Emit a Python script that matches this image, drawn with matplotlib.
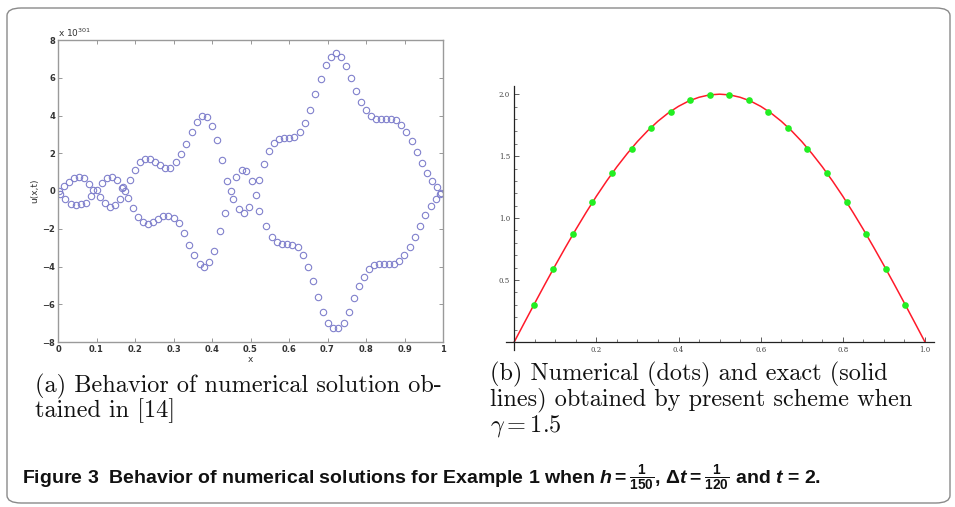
import matplotlib
matplotlib.use("Agg")
import matplotlib.pyplot as plt
from matplotlib.patches import FancyBboxPatch
from matplotlib.ticker import MultipleLocator

# (a) unstable solution, values in units of 10^301
x_up = [0.003, 0.016, 0.029, 0.042, 0.055, 0.068, 0.081, 0.091, 0.113, 0.127,
        0.141, 0.153, 0.165, 0.187, 0.201, 0.214, 0.227, 0.240, 0.253, 0.266,
        0.279, 0.292, 0.306, 0.320, 0.333, 0.347, 0.360, 0.373, 0.387, 0.401,
        0.414, 0.426, 0.440, 0.462, 0.477, 0.488, 0.503, 0.523, 0.535, 0.548,
        0.561, 0.574, 0.587, 0.600, 0.614, 0.628, 0.642, 0.655, 0.668, 0.682,
        0.695, 0.708, 0.721, 0.735, 0.749, 0.762, 0.775, 0.788, 0.801, 0.814,
        0.827, 0.840, 0.853, 0.866, 0.879, 0.892, 0.905, 0.919, 0.932, 0.946,
        0.958, 0.972, 0.984, 0.996]
u_up = [0.0, 0.27, 0.5, 0.71, 0.75, 0.68, 0.39, 0.05, 0.41, 0.71,
        0.76, 0.57, 0.18, 0.57, 1.12, 1.51, 1.72, 1.72, 1.55, 1.37,
        1.24, 1.24, 1.51, 1.96, 2.49, 3.11, 3.64, 3.96, 3.91, 3.47,
        2.72, 1.64, 0.52, 0.75, 1.11, 1.07, 0.53, 0.59, 1.42, 2.10,
        2.52, 2.76, 2.81, 2.81, 2.84, 3.15, 3.61, 4.30, 5.12, 5.96,
        6.67, 7.11, 7.29, 7.08, 6.61, 6.01, 5.30, 4.71, 4.27, 3.95,
        3.79, 3.79, 3.79, 3.79, 3.77, 3.52, 3.15, 2.63, 2.08, 1.49,
        0.96, 0.53, 0.23, -0.09]
x_lo = [0.006, 0.019, 0.033, 0.046, 0.059, 0.073, 0.087, 0.100, 0.108, 0.121,
        0.134, 0.147, 0.160, 0.169, 0.175, 0.182, 0.195, 0.208, 0.221, 0.234,
        0.247, 0.261, 0.274, 0.287, 0.300, 0.313, 0.327, 0.341, 0.354, 0.368,
        0.379, 0.392, 0.406, 0.421, 0.434, 0.449, 0.455, 0.471, 0.484, 0.497,
        0.514, 0.522, 0.541, 0.556, 0.570, 0.583, 0.596, 0.609, 0.623, 0.636,
        0.649, 0.662, 0.675, 0.688, 0.701, 0.714, 0.728, 0.742, 0.756, 0.769,
        0.782, 0.795, 0.808, 0.821, 0.834, 0.847, 0.860, 0.873, 0.886, 0.899,
        0.913, 0.927, 0.941, 0.954, 0.968, 0.983, 0.993]
u_lo = [-0.18, -0.44, -0.68, -0.75, -0.71, -0.62, -0.27, 0.05, -0.30, -0.62,
        -0.84, -0.75, -0.44, 0.23, 0.02, -0.36, -0.92, -1.37, -1.65, -1.74,
        -1.65, -1.46, -1.33, -1.30, -1.42, -1.72, -2.22, -2.84, -3.41, -3.86,
        -4.05, -3.77, -3.16, -2.13, -1.16, 0.02, -0.44, -0.96, -1.16, -0.84,
        -0.20, -1.07, -1.87, -2.42, -2.70, -2.81, -2.81, -2.84, -2.99, -3.38,
        -4.00, -4.75, -5.60, -6.40, -6.99, -7.25, -7.25, -6.97, -6.40, -5.69,
        -5.03, -4.53, -4.14, -3.91, -3.86, -3.86, -3.86, -3.86, -3.70, -3.38,
        -2.95, -2.44, -1.87, -1.28, -0.80, -0.41, -0.14]

# (b) numerical dots and exact curve
x_dots = [0.048, 0.095, 0.143, 0.190, 0.238, 0.286, 0.333, 0.381, 0.429, 0.476,
          0.524, 0.571, 0.619, 0.667, 0.714, 0.762, 0.810, 0.857, 0.905, 0.952]
u_dots = [0.30, 0.59, 0.87, 1.13, 1.36, 1.56, 1.73, 1.86, 1.95, 1.99,
          1.99, 1.95, 1.86, 1.73, 1.56, 1.36, 1.13, 0.87, 0.59, 0.30]
x_exact = [0.0, 0.025, 0.05, 0.075, 0.1, 0.125, 0.15, 0.175, 0.2, 0.225,
           0.25, 0.275, 0.3, 0.325, 0.35, 0.375, 0.4, 0.425, 0.45, 0.475,
           0.5, 0.525, 0.55, 0.575, 0.6, 0.625, 0.65, 0.675, 0.7, 0.725,
           0.75, 0.775, 0.8, 0.825, 0.85, 0.875, 0.9, 0.925, 0.95, 0.975, 1.0]
u_exact = [0.0, 0.157, 0.313, 0.467, 0.618, 0.765, 0.908, 1.045, 1.176, 1.299,
           1.414, 1.520, 1.618, 1.705, 1.782, 1.848, 1.902, 1.945, 1.975, 1.994,
           2.0, 1.994, 1.975, 1.945, 1.902, 1.848, 1.782, 1.705, 1.618, 1.520,
           1.414, 1.299, 1.176, 1.045, 0.908, 0.765, 0.618, 0.467, 0.313, 0.157, 0.0]

W, H = 955, 507
fig = plt.figure(figsize=(W / 100, H / 100), dpi=100)


def box(l, t, r, b):
    return [l / W, 1 - b / H, (r - l) / W, (b - t) / H]


# outer rounded frame
fig.patches.append(FancyBboxPatch((7 / W, 4 / H), 943 / W, 495 / H,
                                  boxstyle="round,pad=0,rounding_size=0.015",
                                  transform=fig.transFigure, fill=False,
                                  edgecolor="#8a8a8a", linewidth=1.0))

# ---- (a) MATLAB-style scatter ----
ax1 = fig.add_axes(box(58, 40, 443, 342))
ax1.plot(x_up, u_up, "o", mfc="none", mec="#8080cc", ms=4.6, mew=0.8)
ax1.plot(x_lo, u_lo, "o", mfc="none", mec="#8080cc", ms=4.6, mew=0.8)
ax1.set_xlim(0, 1)
ax1.set_ylim(-8, 8)
ax1.set_xticks([i / 10 for i in range(11)])
ax1.set_xticklabels(["0", "0.1", "0.2", "0.3", "0.4", "0.5", "0.6", "0.7", "0.8", "0.9", "1"])
ax1.set_yticks(range(-8, 9, 2))
ax1.tick_params(direction="in", length=3, width=0.6, top=True, right=True,
                labelsize=6, colors="#333333", pad=2, color="#888888")
for lab in ax1.get_xticklabels() + ax1.get_yticklabels():
    lab.set_fontweight("bold")
for s in ax1.spines.values():
    s.set_color("#9a9a9a")
    s.set_linewidth(1.0)
ax1.set_xlabel("x", fontsize=6.5, labelpad=1, color="#333333")
ax1.set_ylabel("u(x,t)", fontsize=6.5, labelpad=2, color="#333333")
fig.text(58 / W, 1 - 33 / H, r"x 10$^{301}$", fontsize=6.5, color="#333333",
         va="center", ha="left")

# ---- (b) Mathematica-style plot ----
ax2 = fig.add_axes(box(506, 86, 934, 350))
ax2.plot(x_exact, u_exact, color="#ff1a2a", lw=1.1, zorder=2)
ax2.plot(x_dots, u_dots, "o", color="#22ee22", ms=4.8, mec="none", zorder=3)
ax2.set_xlim(-0.02, 1.022)
ax2.set_ylim(-0.065, 2.066)
ax2.spines["left"].set_position(("data", 0))
ax2.spines["bottom"].set_position(("data", 0))
ax2.spines["top"].set_visible(False)
ax2.spines["right"].set_visible(False)
for s in ("left", "bottom"):
    ax2.spines[s].set_linewidth(0.9)
    ax2.spines[s].set_color("#222222")
ax2.set_xticks([0.2, 0.4, 0.6, 0.8, 1.0])
ax2.set_xticklabels(["0.2", "0.4", "0.6", "0.8", "1.0"])
ax2.set_yticks([0.5, 1.0, 1.5, 2.0])
ax2.set_yticklabels(["0.5", "1.0", "1.5", "2.0"])
ax2.xaxis.set_minor_locator(MultipleLocator(0.05))
ax2.yaxis.set_minor_locator(MultipleLocator(0.1))
ax2.tick_params(which="major", direction="in", length=3.5, width=0.6,
                labelsize=5, colors="#444444", pad=3)
ax2.tick_params(which="minor", direction="in", length=2, width=0.5, color="#444444")
for lab in ax2.get_xticklabels() + ax2.get_yticklabels():
    lab.set_fontfamily("DejaVu Serif")

# ---- captions ----
cap = dict(fontsize=17.5, family="cmr10", color="#111111", va="center", ha="left")
fig.text(35 / W, 1 - 386 / H, "(a) Behavior of numerical solution ob-", **cap)
fig.text(35 / W, 1 - 411 / H, "tained in [14]", **cap)
fig.text(490 / W, 1 - 374 / H, "(b) Numerical (dots) and exact (solid", **cap)
fig.text(490 / W, 1 - 400 / H, "lines) obtained by present scheme when", **cap)
fig.text(490 / W, 1 - 426 / H, r"$\gamma = 1.5$", math_fontfamily="cm", **cap)

plt.rcParams["mathtext.rm"] = "Liberation Sans:bold"
plt.rcParams["mathtext.it"] = "Liberation Sans:bold:italic"
plt.rcParams["mathtext.bf"] = "Liberation Sans:bold"
fig.text(22 / W, 1 - 478 / H,
         r"Figure 3  Behavior of numerical solutions for Example 1 when "
         r"$h = \frac{1}{150}$, $\Delta t = \frac{1}{120}$ and $t$ = 2.",
         fontsize=14, family="Liberation Sans",
         fontweight="bold", math_fontfamily="custom", color="#111111",
         va="center", ha="left")

fig.savefig("out.png", dpi=100)
